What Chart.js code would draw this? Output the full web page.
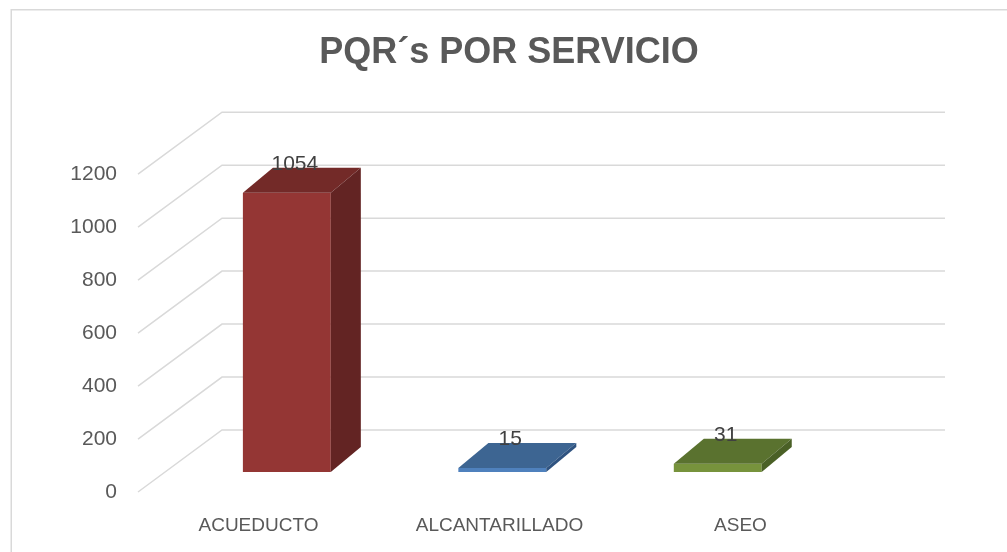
<!DOCTYPE html>
<html>
<head>
<meta charset="utf-8">
<script src="https://cdn.jsdelivr.net/npm/chart.js@4.4.1/dist/chart.umd.min.js"></script>
<style>
  html, body { margin: 0; padding: 0; background: #fff; }
  #wrap { width: 1007px; height: 552px; }
</style>
</head>
<body>
<div id="wrap"><canvas id="pqrChart" width="1007" height="552"></canvas></div>
<script>
const categories = ['ACUEDUCTO', 'ALCANTARILLADO', 'ASEO'];
const pqrCounts = [1054, 15, 31];
const yMax = 1200;
const yStep = 200;

const frontColors = ['#943634', '#4f81bd', '#77933c'];
const topColors = ['#732a28', '#3d6592', '#5a722f'];
const sideColors = ['#632423', '#2f5380', '#4a6026'];

// fake 3d: wall depth, bar depth and where the bar row sits
const wall = { dx: 84, dy: -62, right: 945 };
const row = { k: 0.894, tx: 2.8, ty: -20 };
const depth = { dx: 33.6, dy: -25 };

const gridColor = '#d9d9d9';

const threeD = {
  id: 'threeD',
  beforeDraw(chart) {
    const ctx = chart.ctx;
    ctx.save();
    ctx.strokeStyle = gridColor;
    ctx.lineWidth = 1.5;
    ctx.strokeRect(11.25, 9.75, 1100, 700);
    ctx.restore();
  },
  beforeDatasetsDraw(chart) {
    const ctx = chart.ctx;
    const y = chart.scales.y;
    const left = chart.chartArea.left;
    ctx.save();
    ctx.strokeStyle = gridColor;
    ctx.lineWidth = 1.5;
    y.ticks.forEach(t => {
      const py = y.getPixelForValue(t.value);
      ctx.beginPath();
      ctx.moveTo(left, py);
      ctx.lineTo(left + wall.dx, py + wall.dy);
      ctx.lineTo(wall.right, py + wall.dy);
      ctx.stroke();
    });
    ctx.restore();

    // shift the bar row back into the box
    const cx = (chart.chartArea.left + chart.chartArea.right) / 2;
    ctx.save();
    ctx.translate(cx + row.tx, row.ty);
    ctx.scale(row.k, 1);
    ctx.translate(-cx, 0);
  },
  afterDatasetsDraw(chart) {
    const ctx = chart.ctx;
    const meta = chart.getDatasetMeta(0);
    meta.data.forEach((bar, i) => {
      const p = bar.getProps(['x', 'y', 'base', 'width'], true);
      const l = p.x - p.width / 2, r = p.x + p.width / 2;
      ctx.fillStyle = topColors[i];
      ctx.beginPath();
      ctx.moveTo(l, p.y);
      ctx.lineTo(r, p.y);
      ctx.lineTo(r + depth.dx, p.y + depth.dy);
      ctx.lineTo(l + depth.dx, p.y + depth.dy);
      ctx.closePath();
      ctx.fill();
      ctx.fillStyle = sideColors[i];
      ctx.beginPath();
      ctx.moveTo(r, p.y);
      ctx.lineTo(r + depth.dx, p.y + depth.dy);
      ctx.lineTo(r + depth.dx, p.base + depth.dy);
      ctx.lineTo(r, p.base);
      ctx.closePath();
      ctx.fill();
    });
    ctx.restore();

    // value labels
    const cx = (chart.chartArea.left + chart.chartArea.right) / 2;
    ctx.save();
    ctx.font = '21px "Liberation Sans"';
    ctx.fillStyle = '#404040';
    ctx.textAlign = 'center';
    ctx.textBaseline = 'middle';
    meta.data.forEach((bar, i) => {
      const sx = cx + row.k * (bar.x - cx) + row.tx + 8;
      const sy = bar.y + row.ty - 29;
      ctx.fillText(String(pqrCounts[i]), sx, sy);
    });
    ctx.restore();
  }
};

new Chart(document.getElementById('pqrChart'), {
  type: 'bar',
  data: {
    labels: categories,
    datasets: [{
      data: pqrCounts,
      backgroundColor: frontColors,
      borderWidth: 0,
      barPercentage: 0.408,
      categoryPercentage: 1
    }]
  },
  options: {
    responsive: false,
    animation: false,
    layout: { padding: { left: 11, right: 0, top: 0, bottom: 0 } },
    plugins: {
      legend: { display: false },
      tooltip: { enabled: false },
      title: {
        display: true,
        text: 'PQR´s POR SERVICIO',
        color: '#595959',
        font: { family: 'Liberation Sans', size: 36, weight: 'bold' },
        padding: { top: 31, bottom: 100 }
      }
    },
    scales: {
      x: {
        grid: { display: false },
        border: { display: false },
        ticks: {
          color: '#595959',
          font: { family: 'Liberation Sans', size: 19 },
          padding: 14,
          maxRotation: 0
        },
        afterFit: s => { s.height = 60; }
      },
      y: {
        min: 0,
        max: yMax,
        grid: { display: false, drawTicks: false },
        border: { display: false },
        ticks: {
          stepSize: yStep,
          color: '#595959',
          font: { family: 'Liberation Sans', size: 21 },
          padding: 21,
          callback: v => String(v)
        },
        afterFit: s => { s.width = 127; }
      },
      yRight: {
        type: 'linear',
        position: 'right',
        min: 0,
        max: 1,
        grid: { display: false, drawTicks: false },
        border: { display: false },
        ticks: { display: false },
        afterFit: s => { s.width = 146; }
      }
    }
  },
  plugins: [threeD]
});
</script>
</body>
</html>
